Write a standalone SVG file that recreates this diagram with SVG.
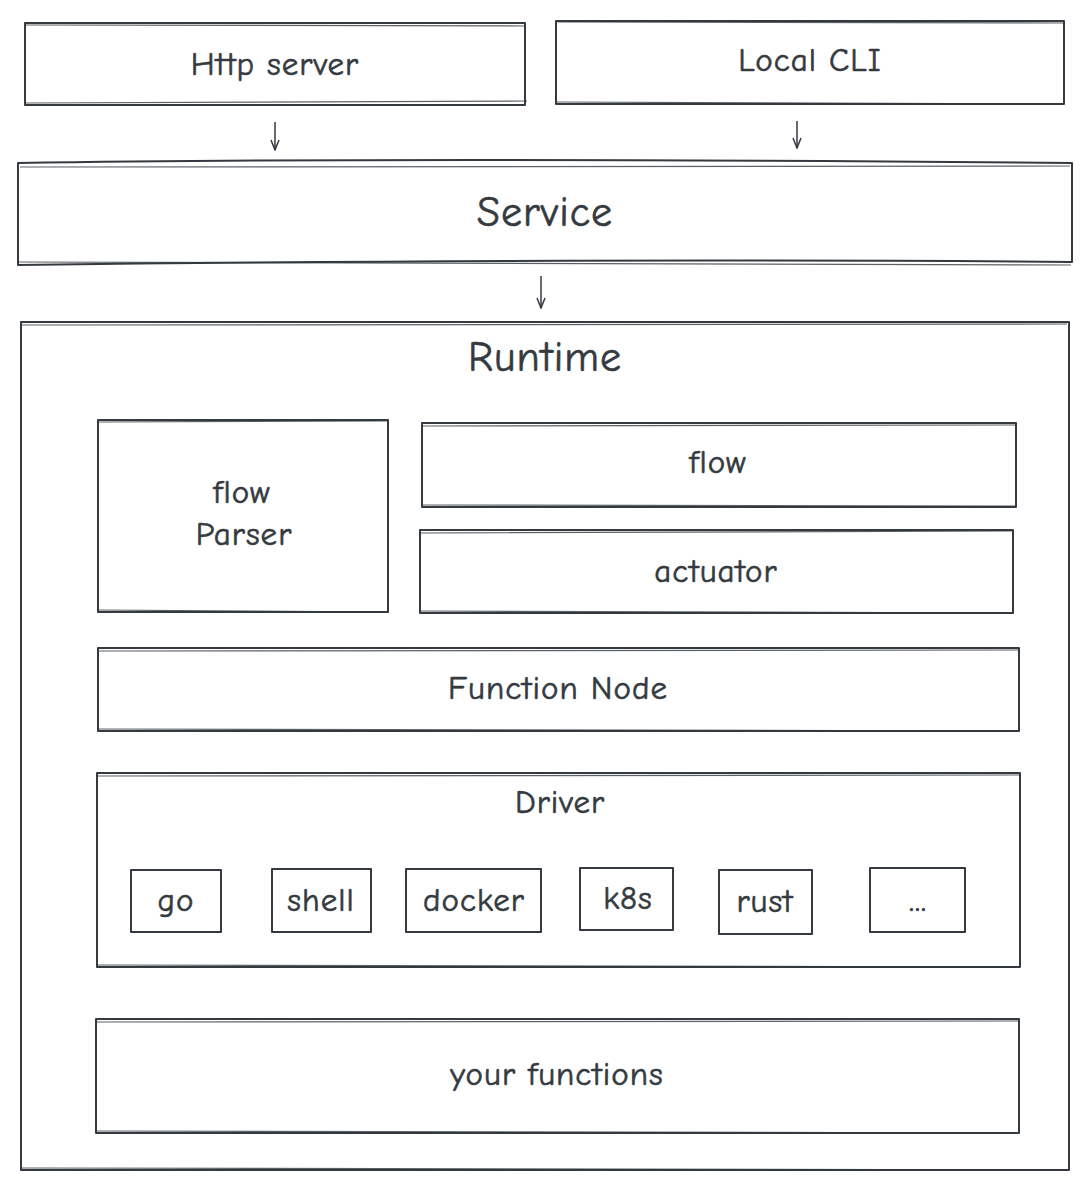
<svg xmlns="http://www.w3.org/2000/svg" width="1092" height="1189" viewBox="0 0 1092 1189">
<defs>
<style>
.b{fill:none;stroke:#343a40;stroke-width:2;stroke-linejoin:round}
.b2{fill:none;stroke:#343a40;stroke-width:1.2;opacity:0.8}
.t{font-family:"Comic Neue","Liberation Sans",sans-serif;fill:#343a40;stroke:#343a40;stroke-width:0.6;text-anchor:middle;dominant-baseline:central;letter-spacing:1px}
.m{font-size:33px}
.l{font-size:42px}
.c{fill:none;stroke:#343a40;stroke-width:1.5}
</style>
<marker id="ah" viewBox="0 0 12 12" refX="11" refY="6" markerWidth="12" markerHeight="12" markerUnits="userSpaceOnUse" orient="auto">
<path d="M1,2 L11,6 L1,10" fill="none" stroke="#343a40" stroke-width="1.5"/>
</marker>
</defs>
<rect width="1092" height="1189" fill="#ffffff"/>
<g id="connectors">
<path class="c" d="M275,122 L275,150" marker-end="url(#ah)"/>
<path class="c" d="M797,121 L797,148" marker-end="url(#ah)"/>
<path class="c" d="M541,276 L541,308" marker-end="url(#ah)"/>
</g>
<g id="http-server">
<rect class="b" x="25" y="23" width="500" height="82"/>
<path class="b2" d="M26,25 L525,26 M24,103 L527,101"/>
<text class="t m" x="275" y="64">Http server</text>
</g>
<g id="local-cli">
<rect class="b" x="556" y="21" width="508" height="83"/>
<path class="b2" d="M558,22 L1063,23 M557,102 L1064,104"/>
<text class="t m" x="810" y="60">Local CLI</text>
</g>
<g id="service">
<path class="b" d="M18,163 Q400,157 1072,163 L1072,262 Q600,258 18,265 Z"/>
<path class="b2" d="M20,167 L1070,166 M17,262 L1071,265"/>
<text class="t l" x="545" y="212">Service</text>
</g>
<g id="runtime">
<rect class="b" x="21" y="322" width="1048" height="848"/>
<path class="b2" d="M22,325 L1067,324 M20,1168 L1069,1170"/>
<text class="t l" x="545" y="357">Runtime</text>
</g>
<g id="flow-parser">
<rect class="b" x="98" y="420" width="290" height="192"/>
<path class="b2" d="M99,422 L387,421 M97,610 L389,612"/>
<text class="t m" x="242" y="492">flow</text>
<text class="t m" x="244" y="534">Parser</text>
</g>
<g id="flow">
<rect class="b" x="422" y="423" width="594" height="84"/>
<path class="b2" d="M423,426 L1015,425 M421,505 L1016,506"/>
<text class="t m" x="718" y="462">flow</text>
</g>
<g id="actuator">
<rect class="b" x="420" y="530" width="593" height="83"/>
<path class="b2" d="M421,533 L1012,531 M419,611 L1014,613"/>
<text class="t m" x="716" y="571">actuator</text>
</g>
<g id="function-node">
<rect class="b" x="98" y="648" width="921" height="83"/>
<path class="b2" d="M99,651 L1018,650 M97,729 L1019,731"/>
<text class="t m" x="558" y="688">Function Node</text>
</g>
<g id="driver">
<rect class="b" x="97" y="773" width="923" height="194"/>
<path class="b2" d="M98,776 L1019,775 M96,965 L1020,967"/>
<text class="t m" x="560" y="802">Driver</text>
</g>
<g id="go">
<rect class="b" x="131" y="870" width="90" height="62"/>
<text class="t m" x="176" y="900">go</text>
</g>
<g id="shell">
<rect class="b" x="272" y="869" width="99" height="63"/>
<text class="t m" x="321" y="900">shell</text>
</g>
<g id="docker">
<rect class="b" x="406" y="869" width="135" height="63"/>
<text class="t m" x="474" y="900">docker</text>
</g>
<g id="k8s">
<rect class="b" x="580" y="868" width="93" height="62"/>
<text class="t m" x="628" y="898">k8s</text>
</g>
<g id="rust">
<rect class="b" x="719" y="870" width="93" height="64"/>
<text class="t m" x="765" y="901">rust</text>
</g>
<g id="more">
<rect class="b" x="870" y="868" width="95" height="64"/>
<text class="t m" x="918" y="900">...</text>
</g>
<g id="your-functions">
<rect class="b" x="96" y="1019" width="923" height="114"/>
<path class="b2" d="M97,1022 L1018,1021 M95,1131 L1019,1133"/>
<text class="t m" x="557" y="1074">your functions</text>
</g>
</svg>
